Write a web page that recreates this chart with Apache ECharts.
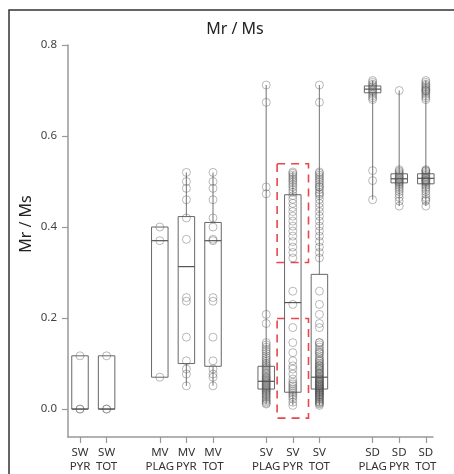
<!DOCTYPE html>
<html>
<head>
<meta charset="utf-8">
<script src="https://cdn.jsdelivr.net/npm/echarts@6/dist/echarts.min.js"></script>
<style>
  html, body { margin: 0; padding: 0; background: #fff; }
  #chart { width: 454px; height: 474px; }
</style>
</head>
<body>
<div id="chart"></div>
<script>
// Group labels and their slot positions along the x axis (empty slots separate the sites)
const groupLabels = ['SW\nPYR', 'SW\nTOT', 'MV\nPLAG', 'MV\nPYR', 'MV\nTOT',
                     'SV\nPLAG', 'SV\nPYR', 'SV\nTOT', 'SD\nPLAG', 'SD\nPYR', 'SD\nTOT'];
const groupPos = [0, 1, 3, 4, 5, 7, 8, 9, 11, 12, 13];
const yTicks = [0, 0.2, 0.4, 0.6, 0.8];

// Individual Mr/Ms measurements per site and mineral
const swPyr = [0.000, 0.000, 0.117];
const mvPlag = [0.070, 0.370, 0.400];
const mvPyr = [0.520, 0.500, 0.485, 0.460, 0.420, 0.373, 0.245, 0.237, 0.158, 0.106, 0.088, 0.077, 0.051];
const svPlag = [0.712, 0.674, 0.488, 0.473, 0.208, 0.188,
  0.146, 0.141, 0.136, 0.131, 0.127, 0.122, 0.117, 0.113, 0.109, 0.105, 0.101, 0.098,
  0.095, 0.092, 0.089, 0.086, 0.083, 0.080, 0.078, 0.075, 0.072, 0.070, 0.068, 0.066,
  0.064, 0.062, 0.060, 0.058, 0.056, 0.054, 0.052, 0.050, 0.048, 0.046, 0.044, 0.042,
  0.040, 0.038, 0.035, 0.033, 0.031, 0.028, 0.025, 0.022, 0.019, 0.016, 0.013, 0.011];
const svPyr = [0.521, 0.518, 0.514, 0.510, 0.506, 0.502, 0.498, 0.493, 0.488, 0.482,
  0.476, 0.469, 0.461, 0.452, 0.443, 0.434, 0.424, 0.413, 0.402, 0.391, 0.380, 0.368,
  0.356, 0.344, 0.332,
  0.259, 0.230, 0.179, 0.146, 0.124, 0.106, 0.095, 0.088, 0.077, 0.066, 0.059, 0.055,
  0.051, 0.047, 0.043, 0.039, 0.035, 0.031, 0.027, 0.022, 0.015, 0.008];
const sdPlag = [0.722, 0.718, 0.714, 0.711, 0.708, 0.705, 0.702, 0.699, 0.696, 0.692,
  0.688, 0.684, 0.680, 0.524, 0.502, 0.460];
const sdPyr = [0.700, 0.526, 0.523, 0.520, 0.517, 0.514, 0.511, 0.509, 0.507, 0.505,
  0.503, 0.501, 0.499, 0.497, 0.494, 0.491, 0.487, 0.483, 0.478, 0.472, 0.465, 0.457, 0.446];

// Totals pool every measurement of a site
const groupPoints = [
  swPyr, swPyr.slice(),
  mvPlag, mvPyr, mvPlag.concat(mvPyr),
  svPlag, svPyr, svPlag.concat(svPyr),
  sdPlag, sdPyr, sdPlag.concat(sdPyr)
];

// Box statistics: whisker low, Q1, median, Q3, whisker high
const whiskerLow = [0.000, 0.000, 0.070, 0.051, 0.051, 0.011, 0.008, 0.008, 0.460, 0.446, 0.446];
const q1         = [0.000, 0.000, 0.070, 0.100, 0.094, 0.044, 0.037, 0.044, 0.695, 0.497, 0.495];
const median     = [0.000, 0.000, 0.370, 0.313, 0.370, 0.061, 0.234, 0.070, 0.703, 0.506, 0.507];
const q3         = [0.117, 0.117, 0.400, 0.423, 0.410, 0.094, 0.471, 0.296, 0.710, 0.517, 0.517];
const whiskerHigh= [0.117, 0.117, 0.400, 0.520, 0.520, 0.712, 0.521, 0.712, 0.722, 0.700, 0.722];

// Highlighted ranges of the SV pyrrhotite population: [x0, y0, x1, y1]
const highlightUpper = [7.41, 0.539, 8.59, 0.322];
const highlightLower = [7.41, 0.199, 8.59, -0.020];

const boxData = groupPos.map((p, i) => [p, whiskerLow[i], q1[i], median[i], q3[i], whiskerHigh[i]]);
const pointData = [];
groupPoints.forEach((arr, i) => arr.forEach(v => pointData.push([groupPos[i], v])));

const labelByPos = {};
groupPos.forEach((p, i) => { labelByPos[p] = groupLabels[i]; });

const FONT = '"Noto Sans", sans-serif';
const chart = echarts.init(document.getElementById('chart'), null, { renderer: 'canvas' });

chart.setOption({
  animation: false,
  backgroundColor: '#fff',
  textStyle: { fontFamily: FONT },
  title: {
    text: 'Mr / Ms',
    left: 230,
    top: 16,
    textAlign: 'center',
    textStyle: { fontSize: 16, fontWeight: 'normal', color: '#222', fontFamily: FONT }
  },
  graphic: [
    {
      type: 'rect',
      shape: { x: 9, y: 10, width: 480, height: 490 },
      style: { fill: 'none', stroke: '#333', lineWidth: 1.5 },
      silent: true
    },
    {
      type: 'text',
      x: 26, y: 224,
      rotation: Math.PI / 2,
      style: {
        text: 'Mr / Ms', fontSize: 16, fill: '#222', fontFamily: FONT,
        align: 'center', verticalAlign: 'middle'
      },
      silent: true
    }
  ],
  grid: { left: 68, right: 21, top: 45, bottom: 36 },
  xAxis: {
    type: 'value',
    min: -0.451,
    max: 13.27,
    axisLine: { show: true, onZero: false, lineStyle: { color: '#999', width: 1.5 } },
    axisTick: { show: true, length: 6, customValues: groupPos, lineStyle: { color: '#999', width: 1.2 } },
    axisLabel: {
      customValues: groupPos,
      formatter: v => labelByPos[v] || '',
      margin: 8,
      fontSize: 11.5,
      lineHeight: 14.5,
      color: '#333',
      fontFamily: FONT
    },
    splitLine: { show: false }
  },
  yAxis: {
    type: 'value',
    min: -0.0614,
    max: 0.8,
    axisLine: { show: true, onZero: false, lineStyle: { color: '#999', width: 1.5 } },
    axisTick: { show: true, length: 6, customValues: yTicks, lineStyle: { color: '#999', width: 1.2 } },
    axisLabel: {
      customValues: yTicks,
      formatter: v => v.toFixed(1),
      margin: 11,
      fontSize: 11.5,
      color: '#444',
      fontFamily: FONT
    },
    splitLine: { show: false }
  },
  series: [
    {
      type: 'custom',
      name: 'box',
      data: boxData,
      encode: { x: 0, y: [1, 2, 3, 4, 5] },
      renderItem(params, api) {
        const x = api.value(0);
        const lo = api.coord([x, api.value(1)]);
        const b1 = api.coord([x, api.value(2)]);
        const md = api.coord([x, api.value(3)]);
        const b3 = api.coord([x, api.value(4)]);
        const hi = api.coord([x, api.value(5)]);
        const half = api.size([1, 0])[0] * 0.31;
        const whisker = { stroke: '#8a8a8a', lineWidth: 1.2 };
        const edge = { stroke: '#666', lineWidth: 1, fill: 'none' };
        return {
          type: 'group',
          children: [
            { type: 'line', shape: { x1: lo[0], y1: lo[1], x2: b1[0], y2: b1[1] }, style: whisker },
            { type: 'line', shape: { x1: b3[0], y1: b3[1], x2: hi[0], y2: hi[1] }, style: whisker },
            { type: 'rect', shape: { x: b3[0] - half, y: b3[1], width: half * 2, height: b1[1] - b3[1] }, style: edge },
            { type: 'line', shape: { x1: md[0] - half, y1: md[1], x2: md[0] + half, y2: md[1] }, style: { stroke: '#555', lineWidth: 1.2 } }
          ]
        };
      },
      z: 2
    },
    {
      type: 'scatter',
      name: 'samples',
      data: pointData,
      symbol: 'circle',
      symbolSize: 8,
      itemStyle: { color: 'rgba(0,0,0,0)', borderColor: 'rgba(80,80,80,0.55)', borderWidth: 0.9 },
      z: 3,
      markArea: {
        silent: true,
        itemStyle: { color: 'rgba(0,0,0,0)', borderColor: '#e8474c', borderWidth: 1.6, borderType: [8, 6] },
        data: [
          [{ coord: [highlightUpper[0], highlightUpper[1]] }, { coord: [highlightUpper[2], highlightUpper[3]] }],
          [{ coord: [highlightLower[0], highlightLower[1]] }, { coord: [highlightLower[2], highlightLower[3]] }]
        ]
      }
    }
  ]
});
</script>
</body>
</html>
